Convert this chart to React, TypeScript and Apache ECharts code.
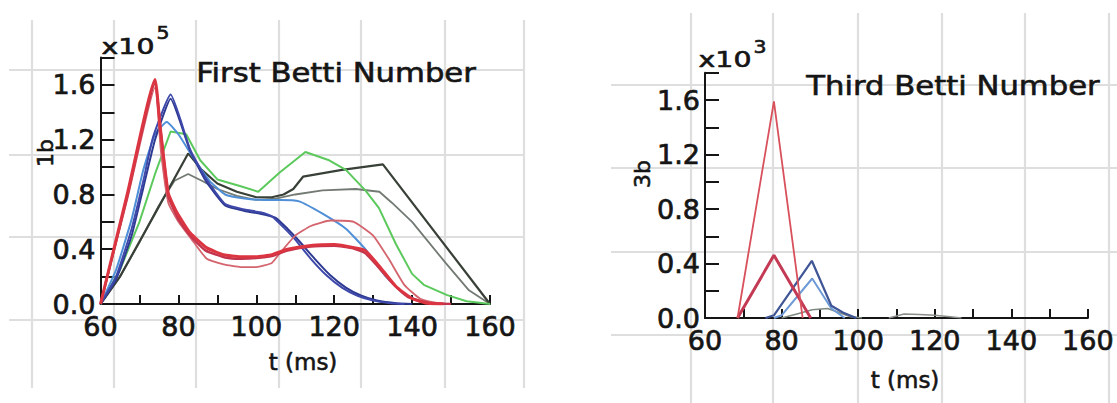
import React, { useEffect, useRef } from "react";
import * as echarts from "echarts";

// ---------- Left panel: First Betti Number (x10^5) vs t (ms) ----------
const b1RedA: number[][] = [[60,0],[67,0.82],[74,1.64],[75.3,1.3],[77.4,0.81],[79.6,0.67],[83,0.52],[87.3,0.41],[91.6,0.36],[96,0.345],[100,0.345],[104,0.36],[108,0.4],[114.5,0.43],[120,0.435],[125.5,0.41],[128,0.39],[131.5,0.28],[135.8,0.13],[140,0.04],[144,0.005],[148,0]];
const b1RedB: number[][] = [[60,0],[67,0.8],[74,1.61],[75.5,1.25],[77.5,0.78],[80,0.62],[83,0.5],[87,0.39],[92,0.34],[96,0.33],[100,0.335],[104,0.35],[108,0.39],[114,0.42],[120,0.425],[125,0.405],[128,0.37],[131,0.28],[135,0.15],[139,0.05],[144,0.01],[150,0]];
const b1RedC: number[][] = [[60,0],[67,0.78],[74,1.58],[75.5,1.12],[77.4,0.74],[80,0.6],[84,0.45],[87.3,0.33],[91.6,0.29],[96,0.27],[100,0.27],[104,0.3],[106,0.37],[110,0.5],[114,0.57],[119,0.61],[125,0.6],[130,0.5],[134,0.33],[138,0.14],[142,0.04],[146,0.01],[150,0]];
const b1Blue1: number[][] = [[60,0],[64,0.2],[68,0.55],[71,0.9],[73.5,1.22],[78,1.53],[83,1.13],[87,0.92],[92,0.73],[97,0.69],[101,0.67],[104,0.64],[107,0.56],[110,0.47],[114,0.33],[118,0.21],[122,0.12],[126,0.06],[130,0.025],[134,0.008],[138,0]];
const b1Blue2: number[][] = [[60,0],[64,0.18],[68,0.5],[71,0.85],[74,1.2],[78,1.5],[83,1.12],[87,0.9],[92,0.72],[97,0.68],[101,0.66],[105,0.63],[108,0.55],[111,0.46],[115,0.33],[119,0.21],[123,0.12],[127,0.06],[131,0.025],[136,0.005],[140,0]];
const b1LightBlue: number[][] = [[60,0],[64,0.25],[68,0.62],[71,0.98],[74,1.24],[77,1.33],[80,1.24],[84,1.06],[88,0.9],[92,0.8],[97,0.77],[102,0.76],[106,0.76],[111,0.75],[117,0.66],[123,0.55],[128,0.4],[133,0.21],[137.6,0.08],[142,0.02],[146,0]];
const b1Green: number[][] = [[60,0],[65,0.25],[70,0.6],[74,0.95],[78,1.26],[82,1.24],[85.6,1.05],[90,0.91],[96,0.86],[100.5,0.82],[106,0.96],[112.6,1.11],[118.7,1.05],[123,0.98],[128,0.83],[131.5,0.7],[135.8,0.44],[140,0.22],[143,0.14],[149,0.065],[154,0.02],[160,0]];
const b1Black: number[][] = [[60,0],[65,0.2],[74,0.66],[82.5,1.1],[86,0.98],[90,0.88],[95,0.82],[100,0.78],[104,0.78],[107,0.8],[109.5,0.84],[112,0.93],[122,0.98],[132.5,1.02],[160,0]];
const b1Gray: number[][] = [[60,0],[65,0.2],[70,0.45],[75,0.72],[79,0.9],[82.5,0.95],[86,0.9],[90,0.84],[95,0.79],[100,0.76],[105,0.77],[110,0.8],[117,0.83],[125.5,0.84],[131.6,0.82],[134.8,0.74],[140,0.6],[148.6,0.3],[154.6,0.1],[160,0]];

// ---------- Right panel: Third Betti Number (x10^3) vs t (ms) ----------
const b3RedThin: number[][] = [[68.5,0],[78,1.59],[85.5,0]];
const b3RedThick: number[][] = [[68.5,0],[78,0.46],[87.6,0]];
const b3Navy: number[][] = [[75.8,0],[78,0.02],[87.9,0.42],[93,0.09],[96,0.04],[99.5,0]];
const b3LightBlue: number[][] = [[78,0],[80,0.02],[88,0.29],[93,0.07],[96.5,0]];
const b3Gray1: number[][] = [[80,0],[84,0.03],[88,0.06],[92,0.07],[95,0.04],[98,0.01],[101,0]];
const b3Gray2: number[][] = [[108,0],[112,0.03],[116,0.025],[120,0.02],[124,0.01],[127,0]];

const FONT = "DejaVu Sans";
const INK = "#151515";

const yLabel = (v: number) => {
  const k = Math.round(v * 10);
  return k % 4 === 0 && k <= 16 ? (k / 10).toFixed(1) : "";
};
const xLabel = (v: number) => (Math.round(v) % 20 === 0 ? String(Math.round(v)) : "");

const labelStyle = {
  fontSize: 27, fontFamily: FONT, color: INK,
  textBorderColor: INK, textBorderWidth: 0.7,
};

function xAxisFor(gridIndex: number) {
  return {
    type: "value", gridIndex, min: 60, max: 160, interval: 10,
    axisLine: { show: true, onZero: false, lineStyle: { color: INK, width: 2 } },
    axisTick: { show: true, inside: true, length: 9, lineStyle: { color: INK, width: 2 } },
    axisLabel: { formatter: xLabel, margin: 9, ...labelStyle },
    splitLine: { show: false },
  };
}
function yAxisFor(gridIndex: number) {
  return {
    type: "value", gridIndex, min: 0, max: 1.8, interval: 0.2,
    axisLine: { show: true, onZero: false, lineStyle: { color: INK, width: 2 } },
    axisTick: { show: true, inside: true, length: 14, lineStyle: { color: INK, width: 2 } },
    axisLabel: { formatter: yLabel, margin: 5, ...labelStyle },
    splitLine: { show: false },
  };
}

function line(data: number[][], color: string, width: number, idx: number, smooth: number | boolean = false) {
  return {
    type: "line", data, xAxisIndex: idx, yAxisIndex: idx, showSymbol: false, symbol: "none",
    smooth, lineStyle: { color, width }, itemStyle: { color }, silent: true,
  };
}

const bgV1 = [32, 114, 196, 279, 361, 445, 524];
const bgH1 = [70, 155, 237, 320];
const bgV2 = [691, 773, 858, 942, 1025, 1109];
const bgH2 = [85, 168, 252, 335];

function bgLines() {
  const els: any[] = [];
  const st = { stroke: "#dedede", lineWidth: 2.2 };
  bgV1.forEach((x) => els.push({ type: "line", silent: true, z: 0, shape: { x1: x, y1: 20, x2: x, y2: 388 }, style: st }));
  bgH1.forEach((y) => els.push({ type: "line", silent: true, z: 0, shape: { x1: 9, y1: y, x2: 525, y2: y }, style: st }));
  bgV2.forEach((x) => els.push({ type: "line", silent: true, z: 0, shape: { x1: x, y1: 13, x2: x, y2: 403 }, style: st }));
  bgH2.forEach((y) => els.push({ type: "line", silent: true, z: 0, shape: { x1: 611, y1: y, x2: 1117, y2: y }, style: st }));
  return els;
}

function txt(text: string, x: number, y: number, size: number, opts: any = {}) {
  return {
    type: "text", x, y, z: 100, silent: true,
    rotation: opts.rotation || 0, scaleX: opts.scaleX || 1,
    style: {
      text, fontSize: size, fontFamily: FONT, fill: INK, stroke: INK, lineWidth: opts.stroke ?? 0.6,
      align: opts.align || "center", verticalAlign: "middle",
    },
  };
}

export default function App() {
  const ref = useRef<HTMLDivElement>(null);
  useEffect(() => {
    if (!ref.current) return;
    const chart = echarts.init(ref.current, undefined, { renderer: "svg" });
    chart.setOption({
      animation: false,
      backgroundColor: "#ffffff",
      grid: [
        { left: 100.5, top: 57.6, width: 389.5, height: 246.4, containLabel: false },
        { left: 705, top: 72.75, width: 391, height: 245.25, containLabel: false },
      ],
      xAxis: [xAxisFor(0), xAxisFor(1)],
      yAxis: [yAxisFor(0), yAxisFor(1)],
      series: [
        line(b1Gray, "#737a73", 1.8, 0),
        line(b1Black, "#384038", 2.2, 0),
        line(b1Green, "#5cc95c", 2, 0),
        line(b1LightBlue, "#4e8fd8", 2, 0, 0.15),
        line(b1Blue2, "#2e3a92", 2, 0, 0.15),
        line(b1Blue1, "#3d48aa", 2, 0, 0.15),
        line(b1RedC, "#d4646e", 1.8, 0, 0.15),
        line(b1RedB, "#c2344c", 2.4, 0, 0.15),
        line(b1RedA, "#dc3542", 3, 0, 0.15),
        line(b3Gray2, "#8a8f8a", 1.5, 1),
        line(b3Gray1, "#7f8a80", 1.6, 1),
        line(b3LightBlue, "#6d9ad6", 2, 1),
        line(b3Navy, "#3f5596", 2.2, 1),
        line(b3RedThick, "#c43a55", 3, 1),
        line(b3RedThin, "#d8505c", 1.8, 1),
      ],
      graphic: {
        elements: [
          ...bgLines(),
          txt("First Betti Number", 336, 73, 26, { scaleX: 1.18 }),
          txt("x10", 128, 47, 21, { scaleX: 1.35 }),
          txt("5", 163, 33, 17, { scaleX: 1.2 }),
          txt("1b", 45, 153, 22, { rotation: Math.PI / 2 }),
          txt("t (ms)", 303, 362, 23),
          txt("Third Betti Number", 953, 86, 26, { scaleX: 1.18 }),
          txt("x10", 725, 60, 21, { scaleX: 1.35 }),
          txt("3", 760, 47, 17, { scaleX: 1.2 }),
          txt("3b", 642, 174, 22, { rotation: Math.PI / 2 }),
          txt("t (ms)", 905, 380, 23),
        ],
      },
    });
    return () => chart.dispose();
  }, []);
  return (
    <div
      ref={ref}
      style={{ position: "absolute", left: 0, top: 0, width: 1117, height: 403 }}
    />
  );
}
